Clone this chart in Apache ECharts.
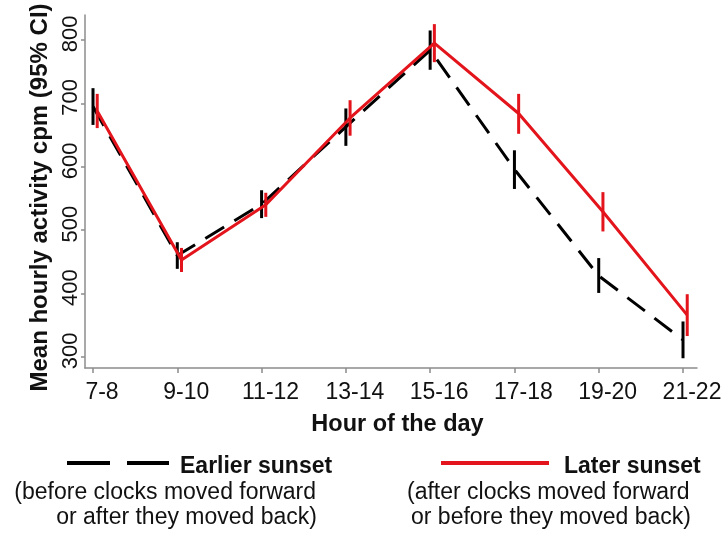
<!DOCTYPE html>
<html>
<head>
<meta charset="utf-8">
<script src="https://cdn.jsdelivr.net/npm/echarts@6/dist/echarts.min.js"></script>
<style>
  html, body { margin: 0; padding: 0; background: #ffffff; }
  #chart { width: 728px; height: 533px; }
</style>
</head>
<body>
<div id="chart"></div>
<script>
// Hour bins on the x axis
const hours = ['7-8', '9-10', '11-12', '13-14', '15-16', '17-18', '19-20', '21-22'];

// Earlier sunset: mean hourly activity (cpm) with 95% CI bounds
const earlierMean = [695, 460, 541, 663, 784, 596, 428, 327];
const earlierLow  = [666, 439, 519, 633, 753, 565, 401, 298];
const earlierHigh = [724, 481, 563, 692, 815, 626, 456, 356];

// Later sunset: mean hourly activity (cpm) with 95% CI bounds
const laterMean = [688, 453, 540, 677, 795, 684, 529, 366];
const laterLow  = [661, 434, 521, 649, 765, 652, 498, 333];
const laterHigh = [715, 472, 559, 705, 825, 715, 560, 399];

// Tick values on the y axis
const yTicks = [300, 400, 500, 600, 700, 800];

const FONT = '"Liberation Sans", Arial, Helvetica, sans-serif';
const RED = '#e3141b';
const AXIS_GREY = '#8c8c8c';
const LATER_SHIFT = 0.05;   // small horizontal dodge so the two sets of bars don't overlap

const xTicks = hours.map((_, i) => i);

function meanPoints(mean, shift) {
  return mean.map((v, i) => [i + shift, v]);
}
function ciPoints(low, high, shift) {
  return low.map((v, i) => [i + shift, v, high[i]]);
}
function errorBar(color) {
  return function (params, api) {
    const x = api.value(0);
    const a = api.coord([x, api.value(1)]);
    const b = api.coord([x, api.value(2)]);
    return {
      type: 'line',
      shape: { x1: a[0], y1: a[1], x2: b[0], y2: b[1] },
      style: { stroke: color, lineWidth: 3 }
    };
  };
}

const chart = echarts.init(document.getElementById('chart'), null, { renderer: 'canvas' });

const option = {
  animation: false,
  backgroundColor: '#ffffff',
  grid: { left: 85, right: 31, top: 15, bottom: 165, containLabel: false },
  xAxis: {
    type: 'value',
    min: -0.095,
    max: 7.166,
    splitLine: { show: false },
    axisLine: { show: true, onZero: false, lineStyle: { color: AXIS_GREY, width: 1.5 } },
    axisTick: { show: true, customValues: xTicks, length: 5, lineStyle: { color: AXIS_GREY, width: 1.5 } },
    axisLabel: {
      customValues: xTicks,
      formatter: v => hours[Math.round(v)],
      fontFamily: FONT, fontSize: 23, color: '#111111', margin: 13,
      padding: [0, 0, 0, 18]
    },
    name: 'Hour of the day',
    nameLocation: 'middle',
    nameGap: 45,
    nameTextStyle: { fontFamily: FONT, fontSize: 23.5, fontWeight: 'bold', color: '#111111', padding: [0, 0, 0, 13] }
  },
  yAxis: {
    type: 'value',
    min: 282.6,
    max: 839.4,
    splitLine: { show: false },
    axisLine: { show: true, onZero: false, lineStyle: { color: AXIS_GREY, width: 1.5 } },
    axisTick: { show: true, customValues: yTicks, length: 4, lineStyle: { color: AXIS_GREY, width: 1.5 } },
    axisLabel: {
      customValues: yTicks,
      rotate: 90,
      fontFamily: FONT, fontSize: 22, color: '#111111', margin: 3,
      padding: [0, 0, 0, 12]
    },
    name: 'Mean hourly activity cpm (95% CI)',
    nameLocation: 'middle',
    nameGap: 32,
    nameTextStyle: { fontFamily: FONT, fontSize: 24, fontWeight: 'bold', color: '#111111', padding: [0, 12, 0, 0] }
  },
  series: [
    {
      name: 'Earlier sunset',
      type: 'line',
      data: meanPoints(earlierMean, 0),
      showSymbol: false,
      symbol: 'none',
      lineStyle: { color: '#000000', width: 3, type: [22, 12] },
      z: 2
    },
    {
      name: 'Earlier sunset CI',
      type: 'custom',
      renderItem: errorBar('#000000'),
      encode: { x: 0, y: [1, 2] },
      data: ciPoints(earlierLow, earlierHigh, 0),
      z: 3
    },
    {
      name: 'Later sunset',
      type: 'line',
      data: meanPoints(laterMean, LATER_SHIFT),
      showSymbol: false,
      symbol: 'none',
      lineStyle: { color: RED, width: 3 },
      z: 4
    },
    {
      name: 'Later sunset CI',
      type: 'custom',
      renderItem: errorBar(RED),
      encode: { x: 0, y: [1, 2] },
      data: ciPoints(laterLow, laterHigh, LATER_SHIFT),
      z: 5
    }
  ],
  graphic: [
    // Legend: earlier sunset
    {
      type: 'line', z: 10,
      shape: { x1: 67, y1: 463, x2: 169, y2: 463 },
      style: { stroke: '#000000', lineWidth: 4, lineDash: [43, 17] }
    },
    {
      type: 'text', z: 10, x: 180, y: 467,
      style: { text: 'Earlier sunset', fontFamily: FONT, fontSize: 23, fontWeight: 'bold', fill: '#111111', align: 'left', verticalAlign: 'middle' }
    },
    {
      type: 'text', z: 10, x: 316, y: 493,
      style: { text: '(before clocks moved forward', fontFamily: FONT, fontSize: 23, fill: '#111111', align: 'right', verticalAlign: 'middle' }
    },
    {
      type: 'text', z: 10, x: 317, y: 518,
      style: { text: 'or after they moved back)', fontFamily: FONT, fontSize: 23, fill: '#111111', align: 'right', verticalAlign: 'middle' }
    },
    // Legend: later sunset
    {
      type: 'line', z: 10,
      shape: { x1: 441, y1: 463, x2: 549, y2: 463 },
      style: { stroke: RED, lineWidth: 4 }
    },
    {
      type: 'text', z: 10, x: 564, y: 467,
      style: { text: 'Later sunset', fontFamily: FONT, fontSize: 23, fontWeight: 'bold', fill: '#111111', align: 'left', verticalAlign: 'middle' }
    },
    {
      type: 'text', z: 10, x: 407, y: 493,
      style: { text: '(after clocks moved forward', fontFamily: FONT, fontSize: 23, fill: '#111111', align: 'left', verticalAlign: 'middle' }
    },
    {
      type: 'text', z: 10, x: 411, y: 518,
      style: { text: 'or before they moved back)', fontFamily: FONT, fontSize: 23, fill: '#111111', align: 'left', verticalAlign: 'middle' }
    }
  ]
};

chart.setOption(option);
</script>
</body>
</html>
